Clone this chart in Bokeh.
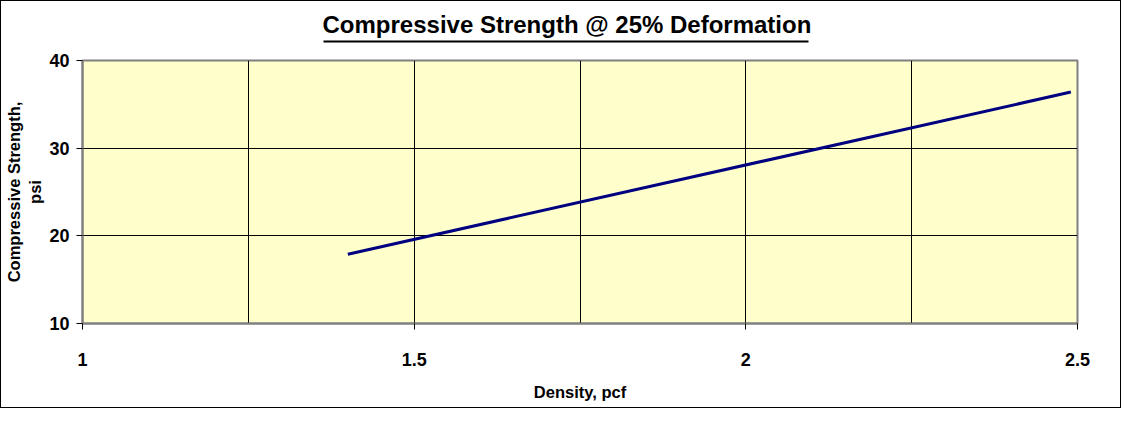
from bokeh.plotting import figure
from bokeh.models import Range1d, FixedTicker, ColorBar, LinearColorMapper
from bokeh.embed import file_html
from bokeh.resources import INLINE

# Data
density = [1.4, 2.49]
strength = [17.9, 36.4]
x_ticks = [1, 1.5, 2, 2.5]
x_grid = [1.25, 1.5, 1.75, 2, 2.25]
y_ticks = [10, 20, 30, 40]

FONT = "Liberation Sans"

p = figure(width=1121, height=408, output_backend="svg", toolbar_location=None,
           x_range=Range1d(1, 2.5), y_range=Range1d(10, 40),
           min_border_left=81, min_border_right=45, min_border_top=59, min_border_bottom=86)
p.styles = {"border": "1px solid black"}

p.background_fill_color = "#FFFFCC"
p.border_fill_color = "white"
p.outline_line_color = "#808080"
p.outline_line_width = 2

p.line(density, strength, line_color="#000080", line_width=3)

for ax in (p.xaxis[0], p.yaxis[0]):
    ax.axis_line_color = "#808080"
    ax.axis_line_width = 2
    ax.major_tick_line_color = "black"
    ax.minor_tick_line_color = None
    ax.major_tick_in = 0
    ax.major_tick_out = 6
    ax.major_label_text_font = FONT
    ax.major_label_text_font_style = "bold"
    ax.major_label_text_font_size = "18px"
    ax.major_label_text_color = "black"
    ax.axis_label_text_font = FONT
    ax.axis_label_text_font_style = "bold"
    ax.axis_label_text_font_size = "16.5px"
    ax.axis_label_text_color = "black"

p.xaxis.ticker = FixedTicker(ticks=x_ticks)
p.xaxis.major_label_overrides = {1: "1", 1.5: "1.5", 2: "2", 2.5: "2.5"}
p.xaxis.major_label_standoff = 23
p.xaxis.axis_label = "Density, pcf"
p.xaxis.axis_label_standoff = 14

p.yaxis.ticker = FixedTicker(ticks=y_ticks)
p.yaxis.major_label_standoff = 7
p.yaxis.axis_label = "Compressive Strength,\npsi"
p.yaxis.axis_label_standoff = 2
p.yaxis.axis_label_text_line_height = 1.2

p.xgrid.ticker = FixedTicker(ticks=x_grid)
p.xgrid.grid_line_color = "black"
p.xgrid.grid_line_width = 1
p.ygrid.ticker = FixedTicker(ticks=[20, 30])
p.ygrid.grid_line_color = "black"
p.ygrid.grid_line_width = 1

# underline of the title: a one-colour, tick-less colour bar between title and frame
cb = ColorBar(color_mapper=LinearColorMapper(palette=["black"], low=0, high=1),
              orientation="horizontal", width=485, height=2, padding=0, margin=0,
              location=(241, 18), ticker=FixedTicker(ticks=[]),
              major_tick_line_color=None, minor_tick_line_color=None,
              bar_line_color=None, border_line_color=None,
              background_fill_alpha=0, label_standoff=0)
p.add_layout(cb, "above")

p.title.text = "Compressive Strength @ 25% Deformation"
p.title.align = "left"
p.title.offset = 240
p.title.text_font = FONT
p.title.text_font_size = "24px"
p.title.text_font_style = "bold"
p.title.text_color = "black"
p.title.standoff = 5

open("out.html", "w").write(file_html(p, INLINE))
